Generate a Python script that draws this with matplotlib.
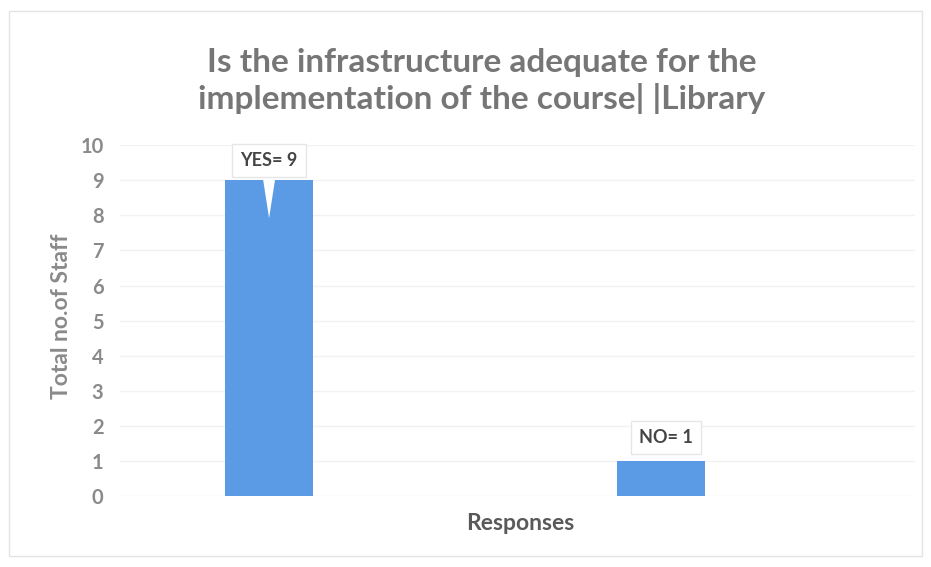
import matplotlib
matplotlib.use("Agg")
import matplotlib.pyplot as plt
from matplotlib.patches import Rectangle

categories = ["YES", "NO"]
values = [9, 1]
labels = ["YES= 9", "NO= 1"]
yticks = list(range(0, 11))

title = "Is the infrastructure adequate for the\nimplementation of the course| |Library"
xlabel = "Responses"
ylabel = "Total no.of Staff"

bar_color = "#5B9BE6"
text_color = "#8A8A8A"
title_color = "#767676"
font = ["Lato", "DejaVu Sans"]

fig = plt.figure(figsize=(9.31, 5.67), dpi=100)
fig.patches.append(Rectangle((0.01, 0.02), 0.98, 0.96, transform=fig.transFigure,
                             fill=False, ec="#E4E4E4", lw=1))
ax = fig.add_axes([0.129, 0.125, 0.854, 0.619])

x = list(range(len(categories)))
ax.bar(x, values, width=0.224, color=bar_color, zorder=2)
ax.set_xlim(-0.38, 1.648)
ax.set_ylim(0, 10)
ax.set_yticks(yticks)
ax.set_yticklabels([str(t) for t in yticks], fontsize=14.5, color=text_color,
                   fontweight="bold", family=font)
ax.set_xticks([])
ax.tick_params(axis="y", length=0, pad=12)
ax.grid(axis="y", color="#F2F2F2", lw=1, zorder=0)
for s in ax.spines.values():
    s.set_visible(False)

ax.set_xlabel(xlabel, fontsize=16.5, fontweight="bold", color="#595959", family=font)
ax.xaxis.set_label_coords(0.503, -0.048)
ax.set_ylabel(ylabel, fontsize=16.5, fontweight="bold", color=text_color, family=font)
ax.yaxis.set_label_coords(-0.06, 0.513)
fig.text(0.517, 0.857, title, ha="center", va="center", fontsize=24,
         fontweight="bold", color=title_color, family=font, linespacing=1.25)

# callouts
offsets = [(0.0, 9.57), (0.012, 1.68)]
tips = [(0.0, 7.92), (0.0, 1.0)]
for xi, lab, (dx, ty), tip in zip(x, labels, offsets, tips):
    ax.annotate(lab, xy=(xi + tip[0], tip[1]), xytext=(xi + dx, ty),
                ha="center", va="center", fontsize=13, fontweight="bold",
                color="#454545", family=font, zorder=5,
                bbox=dict(boxstyle="square,pad=0.45", fc="white", ec="#E6E6E6", lw=1),
                arrowprops=dict(arrowstyle="wedge,tail_width=0.7,shrink_factor=0.5",
                                fc="white", ec="none", shrinkA=0, shrinkB=0))

fig.savefig("out.png", dpi=100)
